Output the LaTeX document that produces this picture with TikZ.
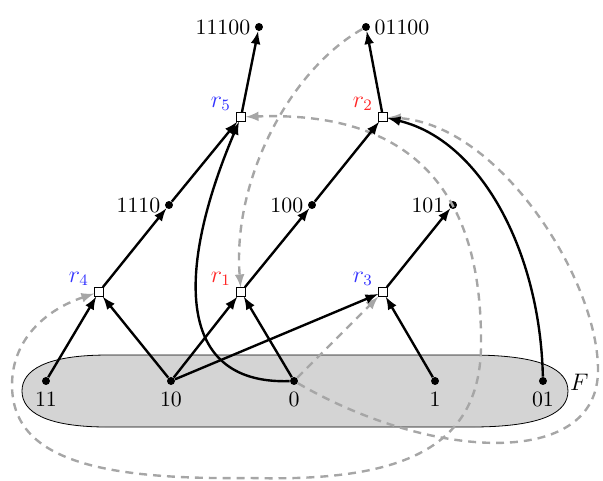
\documentclass[tikz,border=0pt,11pt]{standalone}
\usetikzlibrary{arrows}

\tikzset{
  vtx/.style={circle,fill=black,inner sep=0pt,minimum size=4pt},
  rep/.style={rectangle,draw=black,fill=white,line width=0.6pt,inner sep=0pt,minimum size=4.2pt},
  edge/.style={-latex,line width=1.2pt},
  redir/.style={-latex,gray!70,dash pattern=on 4pt off 3pt,line width=1.2pt},
  every label/.style={inner sep=2pt},
  rlab/.style={inner sep=1pt,xshift=-1.5pt,yshift=-0.5pt,font=\large},
}

\begin{document}
\begin{tikzpicture}
      \useasboundingbox (0,0) rectangle (10.636,8.484);
      % the set F
      \draw[fill=black!17,thin] (1.9,2.222) -- (8.3,2.222)
        .. controls (9.6,2.222) and (10.018,1.95) .. (10.018,1.587)
        .. controls (10.018,1.22) and (9.6,0.952) .. (8.3,0.952) -- (1.9,0.952)
        .. controls (0.8,0.952) and (0.388,1.22) .. (0.388,1.587)
        .. controls (0.388,1.95) and (0.8,2.222) .. (1.9,2.222) -- cycle;
      \node[font=\large] (F) at (10.22,1.74) {$F$};
      % vertices
      \foreach \name/\x in {11/0.811,10/3.016,0/5.186,1/7.673,01/9.577}
        \node[vtx,label={[inner sep=3pt]below:\name}] (v\name) at (\x,1.764) {};
      \foreach \name/\x in {1110/2.981,100/5.503,101/7.990}
        \node[vtx,label=left:\name] (v\name) at (\x,4.868) {};
      \node[vtx,label=left:11100] (v11100) at (4.568,8.008) {};
      \node[vtx,label=right:01100] (v01100) at (6.455,8.008) {};
      % representatives
      \node[rep,label={[rlab,text=blue!80]above left:$r_4$}] (r4) at (1.746,3.334) {};
      \node[rep,label={[rlab,text=red!85]above left:$r_1$}] (r1) at (4.251,3.334) {};
      \node[rep,label={[rlab,text=blue!80]above left:$r_3$}] (r3) at (6.755,3.334) {};
      \node[rep,label={[rlab,text=blue!80]above left:$r_5$}] (r5) at (4.251,6.420) {};
      \node[rep,label={[rlab,text=red!85]above left:$r_2$}] (r2) at (6.755,6.420) {};
      % dashed links
      \draw[redir] (v01100) .. controls (5.115,7.249) and (4.092,5.309) .. (r1);
      \draw[redir] (v0) -- (r3);
      \draw[redir] (v0) .. controls (7.584,0.370) and (10.548,0.194) .. (10.548,1.958)
        .. controls (10.548,3.545) and (8.819,6.279) .. (r2);
      \draw[redir,latex-latex] (r4) .. controls (0.794,3.016) and (0.212,2.487) .. (0.212,1.693)
        .. controls (0.212,0.370) and (1.764,0.018) .. (4.410,0.053)
        .. controls (7.055,-0.018) and (8.519,0.547) .. (8.484,2.487)
        .. controls (8.484,5.662) and (6.702,6.508) .. (r5);
      % edges
      \foreach \a/\b in {v11/r4,v10/r4,v10/r1,v10/r3,v0/r1,v1/r3,r4/v1110,v1110/r5,
                         r1/v100,v100/r2,r3/v101,r5/v11100,r2/v01100}
        \draw[edge] (\a) -- (\b);
      \draw[edge] (v0) .. controls (2.998,1.693) and (3.175,3.898) .. (r5);
      \draw[edge] (v01) .. controls (9.525,4.074) and (8.466,6.015) .. (r2);
    \end{tikzpicture}
\end{document}
